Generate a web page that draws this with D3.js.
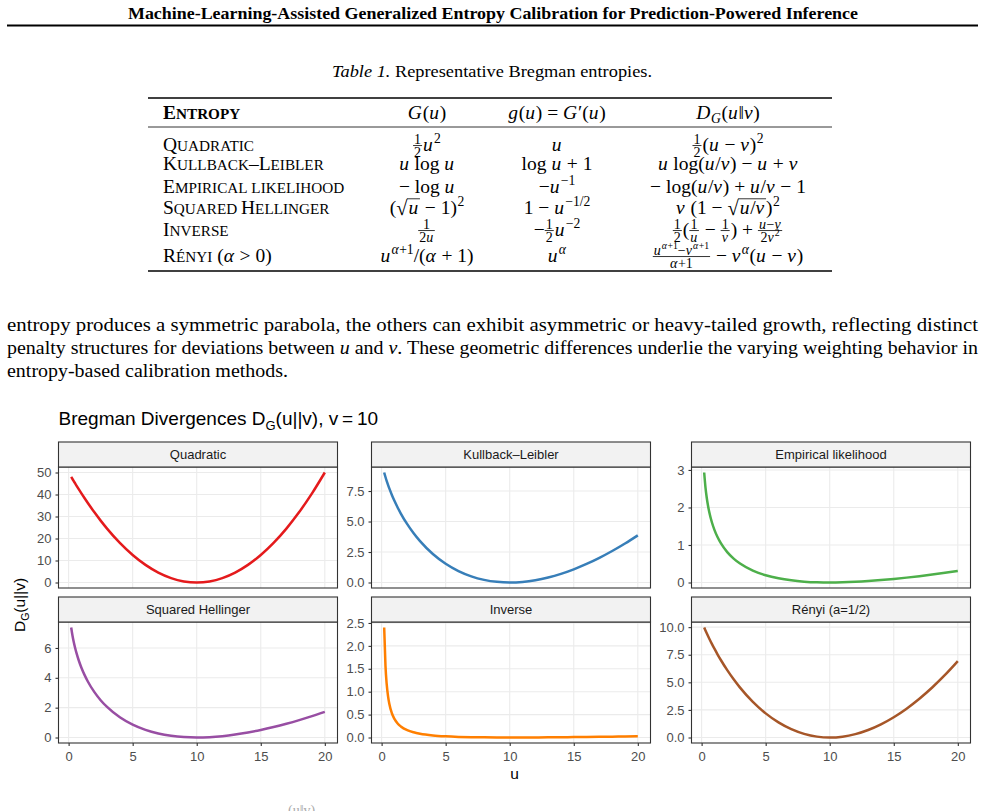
<!DOCTYPE html>
<html>
<head>
<meta charset="utf-8">
<script src="https://cdn.jsdelivr.net/npm/d3@7"></script>
<style>
  body { margin: 0; background: #fff; }
  svg { display: block; }
  text { white-space: pre; }
</style>
</head>
<body>
<svg id="page" width="985" height="811"></svg>
<script>
// u values the curves were read at (v = 10)
const uVals = [0.2, 0.3, 0.4, 0.5, 0.6, 0.8, 1, 1.25, 1.5, 2, 2.5, 3, 4, 5, 6, 7, 8, 9, 10,
  11, 12, 13, 14, 15, 16, 17, 18, 19, 20];

// divergence values
const quadratic = [48.02, 47.05, 46.08, 45.13, 44.18, 42.32, 40.5, 38.28, 36.13, 32, 28.13, 24.5, 18, 12.5, 8, 4.5, 2, 0.5, 0,
  0.5, 2, 4.5, 8, 12.5, 18, 24.5, 32, 40.5, 50];
const kullbackLeibler = [9.018, 8.648, 8.312, 8.002, 7.712, 7.179, 6.697, 6.151, 5.654, 4.781, 4.034, 3.388, 2.335, 1.534, 0.935, 0.503, 0.215, 0.052, 0,
  0.048, 0.188, 0.411, 0.711, 1.082, 1.520, 2.021, 2.580, 3.196, 3.863];
const empiricalLikelihood = [2.932, 2.537, 2.259, 2.046, 1.873, 1.606, 1.403, 1.204, 1.047, 0.809, 0.636, 0.504, 0.316, 0.193, 0.111, 0.057, 0.023, 0.005, 0,
  0.005, 0.018, 0.038, 0.064, 0.095, 0.130, 0.169, 0.212, 0.258, 0.307];
const squaredHellinger = [7.372, 6.836, 6.400, 6.028, 5.701, 5.143, 4.675, 4.179, 3.754, 3.056, 2.500, 2.046, 1.351, 0.858, 0.508, 0.267, 0.111, 0.026, 0,
  0.024, 0.091, 0.197, 0.336, 0.505, 0.702, 0.923, 1.167, 1.432, 1.716];
const inverse = [2.401, 1.568, 1.152, 0.903, 0.736, 0.529, 0.405, 0.306, 0.241, 0.160, 0.113, 0.082, 0.045, 0.025, 0.013, 0.006, 0.003, 0.001, 0,
  0.0005, 0.002, 0.0035, 0.006, 0.0083, 0.011, 0.0144, 0.018, 0.0213, 0.025];
const renyi = [9.968, 9.702, 9.445, 9.196, 8.954, 8.488, 8.046, 7.520, 7.023, 6.101, 5.270, 4.518, 3.225, 2.184, 1.365, 0.752, 0.328, 0.080, 0,
  0.078, 0.306, 0.679, 1.191, 1.836, 2.611, 3.511, 4.532, 5.670, 6.924];

const panelNames = ["Quadratic", "Kullback–Leibler", "Empirical likelihood", "Squared Hellinger", "Inverse", "Rényi (a=1/2)"];
const panelColors = ["#E41A1C", "#377EB8", "#4DAF4A", "#984EA3", "#FF7F00", "#A65628"];
const seriesValues = [quadratic, kullbackLeibler, empiricalLikelihood, squaredHellinger, inverse, renyi];
const xTicks = [0, 5, 10, 15, 20];
const yTicks = [[0, 10, 20, 30, 40, 50], [0, 2.5, 5, 7.5], [0, 1, 2, 3], [0, 2, 4, 6], [0, 0.5, 1, 1.5, 2, 2.5], [0, 2.5, 5, 7.5, 10]];

// table text
const runningTitle = "Machine-Learning-Assisted Generalized Entropy Calibration for Prediction-Powered Inference";
const tableNames = ["Quadratic", "Kullback–Leibler", "Empirical likelihood", "Squared Hellinger", "Inverse", "Rényi"];
const nameSuffix = [[], [], [], [], [], [" (", {i: "α"}, " > 0)"]];
const headerCells = [
  [{i: "G"}, "(", {i: "u"}, ")"],
  [{i: "g"}, "(", {i: "u"}, ") = ", {i: "G"}, "′(", {i: "u"}, ")"],
  [{i: "D"}, {sub: [{i: "G"}]}, "(", {i: "u"}, "‖", {i: "v"}, ")"]
];
const colG = [
  [{frac: [["1"], ["2"]]}, {i: "u"}, {sup: ["2"]}],
  [{i: "u"}, " log ", {i: "u"}],
  ["− log ", {i: "u"}],
  ["(", {sqrt: [{i: "u"}]}, " − 1)", {sup: ["2"]}],
  [{frac: [["1"], ["2", {i: "u"}]]}],
  [{i: "u"}, {sup: [{i: "α"}, "+1"]}, "/(", {i: "α"}, " + 1)"]
];
const colg = [
  [{i: "u"}],
  ["log ", {i: "u"}, " + 1"],
  ["−", {i: "u"}, {sup: ["−1"]}],
  ["1 − ", {i: "u"}, {sup: ["−1/2"]}],
  ["−", {frac: [["1"], ["2"]]}, {i: "u"}, {sup: ["−2"]}],
  [{i: "u"}, {sup: [{i: "α"}]}]
];
const colD = [
  [{frac: [["1"], ["2"]]}, "(", {i: "u"}, " − ", {i: "v"}, ")", {sup: ["2"]}],
  [{i: "u"}, " log(", {i: "u"}, "/", {i: "v"}, ") − ", {i: "u"}, " + ", {i: "v"}],
  ["− log(", {i: "u"}, "/", {i: "v"}, ") + ", {i: "u"}, "/", {i: "v"}, " − 1"],
  [{i: "v"}, " (1 − ", {sqrt: [{i: "u"}, "/", {i: "v"}]}, ")", {sup: ["2"]}],
  [{frac: [["1"], ["2"]]}, "(", {frac: [["1"], [{i: "u"}]]}, " − ", {frac: [["1"], [{i: "v"}]]}, ") + ",
    {frac: [[{i: "u"}, "−", {i: "v"}], ["2", {i: "v"}, {sup: ["2"]}]]}],
  [{frac: [[{i: "u"}, {sup: [{i: "α"}, "+1"]}, "−", {i: "v"}, {sup: [{i: "α"}, "+1"]}], [{i: "α"}, "+1"]]},
    " − ", {i: "v"}, {sup: [{i: "α"}]}, "(", {i: "u"}, " − ", {i: "v"}, ")"]
];

const paraLines = [
  ["entropy produces a symmetric parabola, the others can exhibit asymmetric or heavy-tailed growth, reflecting distinct"],
  ["penalty structures for deviations between ", {i: "u"}, " and ", {i: "v"}, ". These geometric differences underlie the varying weighting behavior in"],
  ["entropy-based calibration methods."]
];

const serif = "'Liberation Serif', 'Times New Roman', serif";
const sans = "'Liberation Sans', Arial, Helvetica, sans-serif";
const svg = d3.select("#page");
const nb = s => s.replace(/ /g, "\u00A0");

// ---------- page header ----------
svg.append("text")
  .attr("x", 128).attr("y", 19)
  .attr("font-family", serif).attr("font-weight", "bold").attr("font-size", 17.5)
  .attr("textLength", 730).attr("lengthAdjust", "spacingAndGlyphs")
  .text(runningTitle);
svg.append("line").attr("x1", 7).attr("x2", 978).attr("y1", 25.5).attr("y2", 25.5)
  .attr("stroke", "#000").attr("stroke-width", 2);

// caption
const cap = svg.append("text").attr("x", 332).attr("y", 77)
  .attr("font-family", serif).attr("font-size", 17)
  .attr("textLength", 320).attr("lengthAdjust", "spacingAndGlyphs");
cap.append("tspan").attr("font-style", "italic").text("Table 1.");
cap.append("tspan").text(" Representative Bregman entropies.");

// ---------- math layout helper ----------
function mathRun(g, items, x, y, size) {
  items.forEach(it => {
    if (typeof it === "string" || it.i) {
      const ital = typeof it !== "string";
      const t = g.append("text").attr("x", x).attr("y", y).attr("font-size", size)
        .attr("font-style", ital ? "italic" : null)
        .text(ital ? it.i : nb(it));
      x += t.node().getComputedTextLength() + (ital ? size * 0.04 : 0);
    } else if (it.sup) {
      x = mathRun(g, it.sup, x + 0.5, y - size * 0.4, size * 0.7);
    } else if (it.sub) {
      x = mathRun(g, it.sub, x, y + size * 0.22, size * 0.7);
    } else if (it.frac) {
      const s = size * 0.72, axis = y - size * 0.28;
      const ng = g.append("g"), dg = g.append("g");
      const wn = mathRun(ng, it.frac[0], 0, axis - 2, s);
      const wd = mathRun(dg, it.frac[1], 0, axis + 1.5 + s * 0.7, s);
      const w = Math.max(wn, wd) + 2;
      ng.attr("transform", `translate(${x + (w - wn) / 2},0)`);
      dg.attr("transform", `translate(${x + (w - wd) / 2},0)`);
      g.append("line").attr("x1", x).attr("x2", x + w).attr("y1", axis).attr("y2", axis)
        .attr("stroke", "#000").attr("stroke-width", 0.8);
      x += w + 1;
    } else if (it.sqrt) {
      const t = g.append("text").attr("x", x).attr("y", y + size * 0.05).attr("font-size", size * 1.05).text("√");
      x += t.node().getComputedTextLength();
      const x0 = x;
      x = mathRun(g, it.sqrt, x + 1, y, size);
      g.append("line").attr("x1", x0 - 0.5).attr("x2", x + 1).attr("y1", y - size * 0.78).attr("y2", y - size * 0.78)
        .attr("stroke", "#000").attr("stroke-width", 0.8);
      x += 1;
    }
  });
  return x;
}

function smallCaps(g, s, x, y, size, bold) {
  const t = g.append("text").attr("x", x).attr("y", y).attr("font-weight", bold ? "bold" : null);
  let run = "", small = null;
  const flush = () => {
    if (run) t.append("tspan").attr("font-size", small ? size * 0.78 : size).text(nb(run.toUpperCase()));
    run = "";
  };
  for (const c of s) {
    const isSmall = c !== c.toUpperCase();
    if (small !== null && isSmall !== small && c !== " ") flush();
    if (c !== " ") small = isSmall;
    run += c;
  }
  flush();
  return x + t.node().getComputedTextLength();
}

// ---------- table ----------
const table = svg.append("g").attr("font-family", serif).attr("fill", "#000");
const tSize = 19.5;
const colCenters = [427, 557, 728];
const rowBase = [151, 170, 193, 214, 236, 262];

table.append("line").attr("x1", 148).attr("x2", 832).attr("y1", 98).attr("y2", 98).attr("stroke", "#000").attr("stroke-width", 1.6);
table.append("line").attr("x1", 148).attr("x2", 832).attr("y1", 127).attr("y2", 127).attr("stroke", "#000").attr("stroke-width", 0.8);
table.append("line").attr("x1", 148).attr("x2", 832).attr("y1", 271).attr("y2", 271).attr("stroke", "#000").attr("stroke-width", 1.6);

smallCaps(table, "Entropy", 163, 119, tSize, true);
headerCells.forEach((cell, j) => {
  const cg = table.append("g");
  const w = mathRun(cg, cell, 0, 119, tSize);
  cg.attr("transform", `translate(${colCenters[j] - w / 2},0)`);
});

tableNames.forEach((name, r) => {
  const xe = smallCaps(table, name, 163, rowBase[r], tSize, false);
  if (nameSuffix[r].length) mathRun(table, nameSuffix[r], xe, rowBase[r], tSize);
  [colG[r], colg[r], colD[r]].forEach((cell, j) => {
    const cg = table.append("g");
    const w = mathRun(cg, cell, 0, rowBase[r], tSize);
    cg.attr("transform", `translate(${colCenters[j] - w / 2},0)`);
  });
});

// ---------- paragraph ----------
const paraBase = [331, 354, 377];
const paraWidth = [971, 971, 281];
paraLines.forEach((line, k) => {
  const t = svg.append("text").attr("x", 7).attr("y", paraBase[k])
    .attr("font-family", serif).attr("font-size", 19.5)
    .attr("textLength", paraWidth[k]).attr("lengthAdjust", "spacingAndGlyphs");
  line.forEach(seg => {
    if (typeof seg === "string") t.append("tspan").text(seg);
    else t.append("tspan").attr("font-style", "italic").text(seg.i);
  });
});

// ---------- faceted chart ----------
const chart = svg.append("g").attr("font-family", sans);
const colX = [58.5, 371.5, 691.5], pw = 279;
const rowY = [442, 597], stripH = 25, ph = 121;

function pad(ext) {
  const r = ext[1] - ext[0];
  return [ext[0] - 0.05 * r, ext[1] + 0.05 * r];
}

const x = d3.scaleLinear().domain(pad(d3.extent(uVals))).range([0, pw]);

// title
const title = chart.append("text").attr("x", 58.5).attr("y", 425).attr("font-size", 19).attr("fill", "#000");
title.append("tspan").text("Bregman Divergences D");
title.append("tspan").attr("font-size", 13).attr("dy", 5).text("G");
title.append("tspan").attr("dy", -5).text("(u||v), v\u2009=\u200910");

panelNames.forEach((name, i) => {
  const vals = seriesValues[i];
  const col = i % 3, row = Math.floor(i / 3);
  const top = rowY[row] + stripH;
  const y = d3.scaleLinear().domain(pad(d3.extent(vals))).range([ph, 0]);
  const g = chart.append("g").attr("transform", `translate(${colX[col]},${top})`);

  g.append("rect").attr("width", pw).attr("height", ph).attr("fill", "#fff");

  g.selectAll(".gx").data(xTicks).join("line").attr("class", "gx")
    .attr("x1", d => x(d)).attr("x2", d => x(d)).attr("y1", 0).attr("y2", ph)
    .attr("stroke", "#EBEBEB").attr("stroke-width", 1.1);
  g.selectAll(".gy").data(yTicks[i]).join("line").attr("class", "gy")
    .attr("x1", 0).attr("x2", pw).attr("y1", d => y(d)).attr("y2", d => y(d))
    .attr("stroke", "#EBEBEB").attr("stroke-width", 1.1);

  const line = d3.line().x(d => x(d[0])).y(d => y(d[1])).curve(d3.curveMonotoneX);
  g.append("path").datum(uVals.map((u, k) => [u, vals[k]]))
    .attr("d", line).attr("fill", "none")
    .attr("stroke", panelColors[i]).attr("stroke-width", 2.5);

  g.append("rect").attr("width", pw).attr("height", ph)
    .attr("fill", "none").attr("stroke", "#333333").attr("stroke-width", 1.1);

  const fmt = d3.format(yTicks[i].some(t => t % 1) ? ".1f" : "d");
  const ya = g.append("g")
    .call(d3.axisLeft(y).tickValues(yTicks[i]).tickSize(3).tickPadding(4).tickFormat(fmt));
  ya.attr("font-family", sans).attr("font-size", 13);
  ya.select(".domain").remove();
  ya.selectAll("line").attr("stroke", "#333333").attr("stroke-width", 1.1);
  ya.selectAll("text").attr("fill", "#4D4D4D");

  if (row === 1) {
    const xa = g.append("g").attr("transform", `translate(0,${ph})`)
      .call(d3.axisBottom(x).tickValues(xTicks).tickSize(3).tickPadding(6));
    xa.attr("font-family", sans).attr("font-size", 13);
    xa.select(".domain").remove();
    xa.selectAll("line").attr("stroke", "#333333").attr("stroke-width", 1.1);
    xa.selectAll("text").attr("fill", "#4D4D4D");
  }

  const s = chart.append("g").attr("transform", `translate(${colX[col]},${rowY[row]})`);
  s.append("rect").attr("width", pw).attr("height", stripH)
    .attr("fill", "#F2F2F2").attr("stroke", "#333333").attr("stroke-width", 1.1);
  s.append("text").attr("x", pw / 2).attr("y", stripH / 2).attr("dy", "0.35em")
    .attr("text-anchor", "middle").attr("font-size", 13).attr("fill", "#1A1A1A")
    .text(name);
});

// axis titles
chart.append("text").attr("x", (colX[0] + colX[2] + pw) / 2).attr("y", 779)
  .attr("text-anchor", "middle").attr("font-size", 15.5).attr("fill", "#000").text("u");

const yl = chart.append("text")
  .attr("transform", `translate(25,${(rowY[0] + stripH + rowY[1] + stripH + ph) / 2}) rotate(-90)`)
  .attr("text-anchor", "middle").attr("font-size", 15.5).attr("fill", "#000");
yl.append("tspan").text("D");
yl.append("tspan").attr("font-size", 10.5).attr("dy", 4).text("G");
yl.append("tspan").attr("dy", -4).text("(u||v)");

// top of the next caption line, cut off by the page edge
svg.append("text").attr("x", 288).attr("y", 815).attr("font-family", serif)
  .attr("font-size", 14).attr("fill", "#aaa").text("(u‖v)");
</script>
</body>
</html>
